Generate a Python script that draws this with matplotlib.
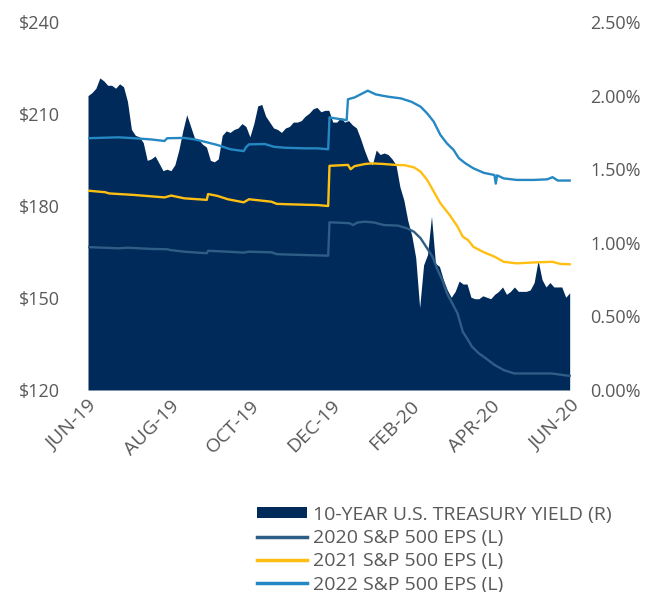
import matplotlib
matplotlib.use("Agg")
import matplotlib.pyplot as plt
import matplotlib.dates as mdates
from matplotlib.patches import Patch
from matplotlib.lines import Line2D
from matplotlib.ticker import FuncFormatter, FixedLocator, FixedFormatter
import pandas as pd

plt.rcParams['font.family'] = ['Open Sans', 'DejaVu Sans']

# ---------------- data ----------------
# 10-year US Treasury yield (%), sampled evenly from 2019-07-01 to 2020-06-30
yield_start = '2019-07-01'
yield_end = '2020-06-30'
yield_pct = [
    2.00, 2.02, 2.05, 2.12, 2.10, 2.07, 2.07, 2.05, 2.08, 2.06,
    1.96, 1.77, 1.73, 1.72, 1.68, 1.56, 1.57, 1.59, 1.54, 1.49,
    1.50, 1.49, 1.53, 1.63, 1.76, 1.87, 1.79, 1.71, 1.70, 1.67,
    1.65, 1.56, 1.55, 1.57, 1.73, 1.76, 1.75, 1.77, 1.78, 1.81,
    1.79, 1.72, 1.81, 1.93, 1.94, 1.86, 1.82, 1.78, 1.77, 1.75,
    1.78, 1.79, 1.82, 1.82, 1.83, 1.86, 1.88, 1.91, 1.92, 1.89,
    1.90, 1.90, 1.82, 1.82, 1.85, 1.82, 1.83, 1.80, 1.78, 1.71,
    1.63, 1.56, 1.53, 1.63, 1.60, 1.61, 1.60, 1.57, 1.53, 1.38,
    1.29, 1.15, 1.05, 0.90, 0.56, 0.85, 0.92, 1.18, 0.86, 0.84,
    0.75, 0.68, 0.63, 0.67, 0.74, 0.72, 0.72, 0.63, 0.62, 0.62,
    0.64, 0.63, 0.62, 0.65, 0.67, 0.70, 0.65, 0.67, 0.70, 0.67,
    0.67, 0.67, 0.68, 0.73, 0.88, 0.75, 0.70, 0.73, 0.70, 0.70,
    0.70, 0.63, 0.66,
]

eps2022_dates = [
    '2019-07-01', '2019-07-24', '2019-08-05', '2019-08-18', '2019-08-28', '2019-08-30',
    '2019-09-12', '2019-09-20', '2019-09-27', '2019-10-07', '2019-10-17', '2019-10-27',
    '2019-10-29', '2019-10-31', '2019-11-12', '2019-11-19', '2019-11-27', '2019-12-12',
    '2019-12-22', '2019-12-30', '2019-12-31', '2020-01-04', '2020-01-13', '2020-01-14',
    '2020-01-19', '2020-01-29', '2020-02-04', '2020-02-10', '2020-02-14', '2020-02-23',
    '2020-03-02', '2020-03-09', '2020-03-14', '2020-03-19', '2020-03-24', '2020-03-29',
    '2020-04-03', '2020-04-07', '2020-04-12', '2020-04-18', '2020-04-26', '2020-05-04',
    '2020-05-05', '2020-05-06', '2020-05-11', '2020-05-21', '2020-06-03', '2020-06-13',
    '2020-06-17', '2020-06-21', '2020-06-30',
]
eps2022 = [
    202.1, 202.4, 202.1, 201.7, 201.2, 202.1,
    202.2, 201.7, 201.0, 199.9, 198.5, 197.9,
    199.3, 200.1, 200.2, 199.3, 199.0, 198.8,
    198.8, 198.5, 208.9, 208.6, 208.0, 214.8,
    215.4, 217.6, 216.4, 215.9, 215.6, 215.1,
    214.0, 212.4, 210.2, 207.5, 203.2, 200.4,
    198.3, 195.6, 193.9, 192.3, 190.8, 190.1,
    187.3, 190.0, 189.0, 188.5, 188.5, 188.7,
    189.4, 188.3, 188.3,
]

eps2021_dates = [
    '2019-07-01', '2019-07-14', '2019-07-17', '2019-08-05', '2019-08-28', '2019-09-02',
    '2019-09-12', '2019-09-29', '2019-09-30', '2019-10-07', '2019-10-15', '2019-10-27',
    '2019-10-31', '2019-11-17', '2019-11-21', '2019-11-27', '2019-12-22', '2019-12-30',
    '2019-12-31', '2020-01-14', '2020-01-16', '2020-01-19', '2020-01-27', '2020-02-01',
    '2020-02-10', '2020-02-19', '2020-02-26', '2020-03-04', '2020-03-09', '2020-03-14',
    '2020-03-19', '2020-03-24', '2020-03-31', '2020-04-06', '2020-04-10', '2020-04-14',
    '2020-04-18', '2020-04-26', '2020-05-04', '2020-05-11', '2020-05-21', '2020-06-03',
    '2020-06-17', '2020-06-23', '2020-06-30',
]
eps2021 = [
    185.0, 184.5, 184.1, 183.6, 182.8, 183.4,
    182.5, 182.0, 183.9, 183.3, 182.2, 181.2,
    182.2, 181.4, 180.7, 180.6, 180.3, 180.0,
    193.1, 193.4, 192.0, 193.0, 193.7, 193.9,
    193.7, 193.4, 193.3, 192.6, 191.2, 188.5,
    184.7, 180.9, 177.1, 173.3, 170.0, 168.9,
    166.7, 164.9, 163.5, 161.8, 161.3, 161.6,
    161.8, 161.1, 161.0,
]

eps2020_dates = [
    '2019-07-01', '2019-07-24', '2019-07-31', '2019-08-18', '2019-08-30', '2019-09-02',
    '2019-09-12', '2019-09-29', '2019-09-30', '2019-10-15', '2019-10-27', '2019-10-31',
    '2019-11-17', '2019-11-21', '2019-11-27', '2019-12-30', '2019-12-31', '2020-01-15',
    '2020-01-18', '2020-01-21', '2020-01-27', '2020-02-03', '2020-02-10', '2020-02-21',
    '2020-02-28', '2020-03-04', '2020-03-09', '2020-03-14', '2020-03-18', '2020-03-22',
    '2020-03-26', '2020-03-29', '2020-04-02', '2020-04-06', '2020-04-10', '2020-04-14',
    '2020-04-17', '2020-04-22', '2020-04-26', '2020-05-04', '2020-05-11', '2020-05-19',
    '2020-06-03', '2020-06-16', '2020-06-30',
]
eps2020 = [
    166.6, 166.2, 166.4, 166.0, 165.9, 165.6,
    165.1, 164.6, 165.4, 165.1, 164.8, 165.1,
    164.9, 164.3, 164.2, 163.8, 174.7, 174.4,
    173.8, 174.6, 174.9, 174.6, 173.8, 173.6,
    172.7, 171.6, 169.5, 166.2, 163.5, 159.1,
    155.3, 151.5, 148.3, 145.0, 139.0, 136.3,
    134.1, 132.0, 130.8, 128.2, 126.5, 125.4,
    125.4, 125.4, 124.6,
]

xtick_dates = ['2019-07-01', '2019-09-01', '2019-11-01', '2020-01-01',
               '2020-03-01', '2020-05-01', '2020-07-01']
xtick_labels = ['JUN-19', 'AUG-19', 'OCT-19', 'DEC-19', 'FEB-20', 'APR-20', 'JUN-20']
left_ticks = [120, 150, 180, 210, 240]
right_ticks = [0.0, 0.5, 1.0, 1.5, 2.0, 2.5]

legend_labels = ['10-YEAR U.S. TREASURY YIELD (R)', '2020 S&P 500 EPS (L)',
                 '2021 S&P 500 EPS (L)', '2022 S&P 500 EPS (L)']

# ---------------- styles ----------------
NAVY = '#002a5a'
C2020 = '#2e5d86'
C2021 = '#ffbf12'
C2022 = '#2588c2'
TXT = '#595959'
FS = 13

yield_dates = pd.date_range(yield_start, yield_end, periods=len(yield_pct))

fig = plt.figure(figsize=(6.62, 5.92), dpi=100)
ax_fill = fig.add_axes([88 / 662, 1 - 390 / 592, (571 - 88) / 662, (390 - 22) / 592])
ax_lines = ax_fill.twinx()

# fill on the back axis (right scale)
ax_fill.fill_between(yield_dates, 0, yield_pct, color=NAVY, linewidth=0, zorder=1)
ax_fill.set_ylim(0, 2.5)
ax_fill.yaxis.tick_right()
ax_fill.yaxis.set_label_position('right')
ax_fill.set_yticks(right_ticks)
ax_fill.yaxis.set_major_formatter(FuncFormatter(lambda v, p: f'{v:.2f}%'))

# lines on the front axis (left scale)
ax_lines.plot(pd.to_datetime(eps2020_dates), eps2020, color=C2020, lw=1.7, zorder=3)
ax_lines.plot(pd.to_datetime(eps2021_dates), eps2021, color=C2021, lw=1.7, zorder=3)
ax_lines.plot(pd.to_datetime(eps2022_dates), eps2022, color=C2022, lw=1.7, zorder=3)
ax_lines.set_ylim(120, 240)
ax_lines.yaxis.tick_left()
ax_lines.yaxis.set_label_position('left')
ax_lines.set_yticks(left_ticks)
ax_lines.yaxis.set_major_formatter(FuncFormatter(lambda v, p: f'${v:.0f}'))

xl = (pd.Timestamp(xtick_dates[0]), pd.Timestamp(xtick_dates[-1]))
ax_fill.set_xlim(xl)
ax_lines.set_xlim(xl)
tick_pos = mdates.date2num(pd.to_datetime(xtick_dates))
ax_fill.xaxis.set_major_locator(FixedLocator(tick_pos))
ax_fill.xaxis.set_major_formatter(FixedFormatter(xtick_labels))

for ax in (ax_fill, ax_lines):
    for s in ax.spines.values():
        s.set_visible(False)
    ax.tick_params(length=0, labelsize=FS, labelcolor=TXT)
    ax.patch.set_visible(False)

ax_fill.tick_params(axis='y', pad=14)
ax_lines.tick_params(axis='y', pad=20)
ax_fill.tick_params(axis='x', pad=5, labelsize=14)
for lab in ax_fill.get_xticklabels():
    lab.set_rotation(45)
    lab.set_ha('right')
    lab.set_va('top')
    lab.set_rotation_mode('anchor')

handles = [Patch(facecolor=NAVY, edgecolor='none'),
           Line2D([], [], color=C2020, lw=2.5),
           Line2D([], [], color=C2021, lw=2.5),
           Line2D([], [], color=C2022, lw=2.5)]
fig.legend(handles, legend_labels, loc='upper left', bbox_to_anchor=(249 / 662, 1 - 498 / 592),
           frameon=False, fontsize=14, labelcolor=TXT, handlelength=2.6, handleheight=0.5,
           handletextpad=0.3, labelspacing=0.27, borderaxespad=0)

fig.savefig('out.png', dpi=100)
